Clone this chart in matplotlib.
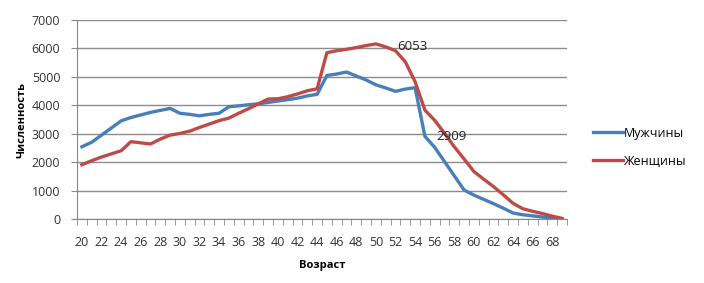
import matplotlib.pyplot as plt
import numpy as np
from matplotlib.ticker import FixedLocator, NullFormatter

plt.rcParams['font.family'] = ['Open Sans', 'DejaVu Sans']

ages = list(range(20, 70))
men = [2540, 2700, 2950, 3200, 3450, 3570, 3660, 3750, 3820, 3890,
       3720, 3680, 3630, 3680, 3720, 3950, 3980, 4020, 4050, 4100,
       4150, 4200, 4250, 4330, 4385, 5050, 5100, 5170, 5030, 4890,
       4720, 4610, 4490, 4570, 4620, 2909, 2520, 2020, 1520, 1020,
       840, 690, 540, 380, 210, 150, 110, 70, 40, 10]
women = [1910, 2050, 2180, 2290, 2400, 2720, 2680, 2640, 2810, 2950,
         3010, 3090, 3220, 3340, 3460, 3550, 3720, 3880, 4050, 4220,
         4230, 4300, 4400, 4510, 4580, 5850, 5920, 5970, 6030, 6100,
         6160, 6053, 5920, 5530, 4830, 3830, 3470, 3020, 2540, 2110,
         1670, 1400, 1140, 850, 550, 360, 270, 190, 100, 20]
labelled = [(ages.index(51), women[ages.index(51)]), (ages.index(55), men[ages.index(55)])]

fig = plt.figure(figsize=(7.04, 2.83), dpi=100)
ax = fig.add_axes([77 / 704, 1 - 219 / 283, 490 / 704, 199 / 283])

x = np.arange(len(ages))
ax.plot(x, men, color='#4A7EBB', lw=2.4, label='Мужчины', solid_joinstyle='round')
ax.plot(x, women, color='#BE4B48', lw=2.4, label='Женщины', solid_joinstyle='round')

for i, v in labelled:
    ax.annotate(str(v), (i, v), xytext=(8, 0), textcoords='offset points',
                va='center', ha='left', fontsize=9.5, color='#222222')

ax.set_xlim(-0.5, len(ages) - 0.5)
ax.set_ylim(0, 7000)
ax.set_yticks(range(0, 7001, 1000))
ax.xaxis.set_major_locator(FixedLocator(x[::2]))
ax.set_xticklabels([str(a) for a in ages[::2]])
ax.xaxis.set_minor_locator(FixedLocator(np.arange(-0.5, len(ages), 1)))
ax.xaxis.set_minor_formatter(NullFormatter())
ax.tick_params(axis='x', which='major', length=0, pad=12, labelsize=9, colors='#333333')
ax.tick_params(axis='x', which='minor', length=4, color='#888888')
ax.tick_params(axis='y', length=4, color='#888888', pad=8, labelsize=9, labelcolor='#333333')

ax.grid(axis='y', color='#8c8c8c', lw=1)
ax.set_axisbelow(True)
for s in ['top', 'right']:
    ax.spines[s].set_visible(False)
ax.spines['left'].set_color('#888888')
ax.spines['bottom'].set_color('#888888')

ax.set_xlabel('Возраст', fontsize=8, fontweight='bold', labelpad=8)
ax.set_ylabel('Численность', fontsize=8, fontweight='bold', labelpad=3)

ax.legend(loc='center left', bbox_to_anchor=(1.03, 0.36), frameon=False,
          fontsize=9, handlelength=2.4, handletextpad=0.1, labelspacing=1.2)

fig.savefig('out.png', dpi=100)
